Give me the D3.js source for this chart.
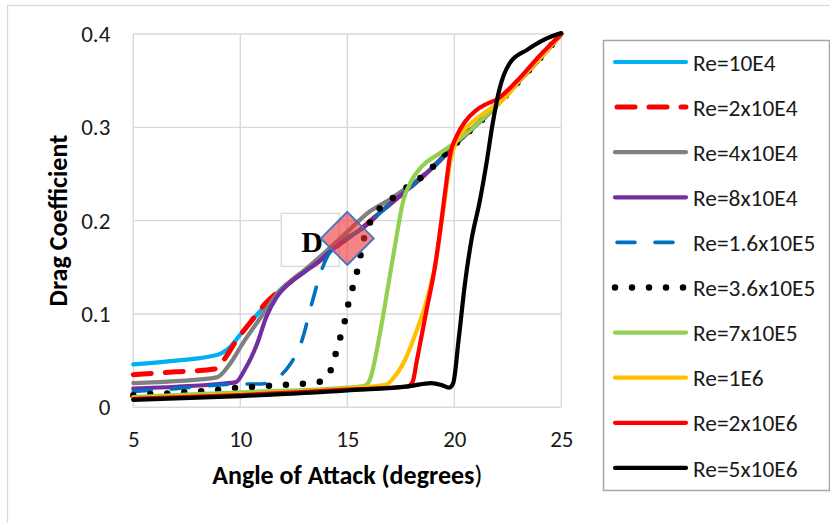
<!DOCTYPE html>
<html><head><meta charset="utf-8">
<script src="https://cdn.jsdelivr.net/npm/d3@7"></script>
<style>body{margin:0;background:#fff}text{font-family:Carlito,Lato,"Open Sans",sans-serif}</style>
</head><body>
<svg id="chart" width="830" height="523"></svg>
<script>
// ---- data ----
const xTicks = [5, 10, 15, 20, 25];
const yTicks = [0, 0.1, 0.2, 0.3, 0.4];
const xTitleMain = "Angle of Attack (degrees";
const xTitleEnd = ")";
const yTitle = "Drag Coefficient";
const seriesNames = ["Re=10E4","Re=2x10E4","Re=4x10E4","Re=8x10E4","Re=1.6x10E5","Re=3.6x10E5","Re=7x10E5","Re=1E6","Re=2x10E6","Re=5x10E6"];

const re10E4 = [[5,.046],[7,.050],[8.9,.056],[9.5,.064],[10,.078],[11,.105],[11.7,.122],[12.3,.134],[13,.146],[13.7,.157],[14.3,.169],[15,.181],[15.7,.192],[16.2,.202],[17,.218],[17.9,.235],[18.8,.253],[19.3,.264],[20,.281],[21,.302],[22,.324],[23,.349],[24,.374],[25,.4]];
const re2x10E4 = [[5,.035],[7,.038],[8.8,.041],[9.2,.050],[9.8,.071],[10.5,.092],[11.2,.112],[12,.128],[12.6,.139],[13.2,.149],[13.7,.157],[14.3,.169],[15,.181],[15.7,.192],[16.2,.202],[17,.218],[17.9,.235],[18.8,.253],[19.3,.264],[20,.281],[21,.302],[22,.324],[23,.349],[24,.374],[25,.4]];
const re4x10E4 = [[5,.026],[7,.028],[8.9,.032],[9.5,.046],[10.1,.068],[11.1,.101],[11.8,.124],[12.4,.136],[13,.147],[14,.167],[15,.188],[16,.209],[17,.223],[18,.239],[18.8,.253],[19.3,.264],[20,.281],[21,.302],[22,.324],[23,.349],[24,.374],[25,.4]];
const re8x10E4 = [[5,.020],[7,.022],[9,.025],[9.8,.027],[10.2,.040],[10.8,.069],[11.2,.096],[11.7,.118],[12.3,.133],[13,.145],[13.7,.157],[14.3,.169],[15,.181],[15.7,.192],[16.2,.202],[17,.218],[17.9,.235],[18.8,.253],[19.3,.264],[20,.281],[21,.302],[22,.324],[23,.349],[24,.374],[25,.4]];
const re1_6x10E5 = [[5,.017],[7,.020],[10,.025],[11,.025],[11.6,.030],[12.3,.045],[12.9,.073],[13.35,.112],[13.8,.147],[14.1,.163],[14.5,.174],[15,.181],[15.7,.192],[16.2,.202],[17,.218],[17.9,.235],[18.8,.253],[19.3,.264],[20,.281],[21,.302],[22,.324],[23,.349],[24,.374],[25,.4]];
const re3_6x10E5 = [[5,.013],[8,.017],[10,.021],[12,.024],[13.6,.027],[14.05,.031],[14.3,.045],[14.5,.061],[14.7,.077],[14.9,.094],[15.05,.111],[15.25,.128],[15.45,.145],[15.6,.161],[15.75,.178],[16,.195],[16.4,.21],[17,.222],[17.5,.231],[18.8,.253],[19.3,.265],[20,.281],[21,.302],[22,.324],[23,.349],[24,.374],[25,.4]];
const re7x10E5 = [[5,.011],[10,.016],[15,.021],[15.8,.023],[16.06,.030],[16.5,.076],[16.9,.129],[17.3,.183],[17.6,.220],[18,.243],[18.4,.256],[19.3,.272],[20,.283],[21,.302],[22,.324],[23,.349],[24,.374],[25,.4]];
const re1E6 = [[5,.010],[10,.014],[15,.020],[16.8,.024],[17.1,.030],[17.7,.051],[18.3,.086],[18.6,.106],[19.1,.152],[19.55,.222],[19.8,.262],[20.1,.286],[20.5,.298],[21.5,.317],[22.3,.330],[23,.349],[24,.374],[25,.4]];
const re2x10E6 = [[5,.009],[10,.013],[15,.019],[17.8,.022],[18.05,.027],[18.25,.050],[18.7,.104],[19.1,.151],[19.4,.200],[19.6,.236],[19.8,.270],[20.1,.290],[20.5,.306],[21,.318],[21.5,.325],[22,.330],[22.9,.349],[24,.377],[25,.4]];
const re5x10E6 = [[5,.008],[10,.012],[15,.018],[18,.023],[18.9,.026],[19.4,.024],[19.75,.021],[19.95,.026],[20.2,.072],[20.5,.133],[20.8,.179],[21.2,.222],[21.5,.261],[21.8,.305],[22.1,.340],[22.6,.369],[23.4,.383],[24.2,.394],[25,.401]];
const seriesData = [re10E4, re2x10E4, re4x10E4, re8x10E4, re1_6x10E5, re3_6x10E5, re7x10E5, re1E6, re2x10E6, re5x10E6];
const markerLabel = "D";
const markerPoint = [15, 0.181];

// ---- styles ----
const styles = [
  {color:"#00b0f0", width:4.2, dash:null, cap:"round"},
  {color:"#ff0000", width:5, dash:"18 14", cap:"round"},
  {color:"#808080", width:4.2, dash:null, cap:"round"},
  {color:"#7030a0", width:4.2, dash:null, cap:"round"},
  {color:"#0070c0", width:3.6, dash:"18 20", cap:"round"},
  {color:"#000000", width:6.5, dash:"0 17", cap:"round"},
  {color:"#92d050", width:4.2, dash:null, cap:"round"},
  {color:"#ffc000", width:4.2, dash:null, cap:"round"},
  {color:"#ff0000", width:4.2, dash:null, cap:"round"},
  {color:"#000000", width:4.2, dash:null, cap:"round"}
];

const svg = d3.select("#chart");
svg.append("rect").attr("width",830).attr("height",523).attr("fill","#fff");
svg.append("rect").attr("x",7.5).attr("y",5.5).attr("width",840).attr("height",540)
  .attr("fill","none").attr("stroke","#d9d9d9").attr("stroke-width",1.3);

const x = d3.scaleLinear().domain([5,25]).range([133.3,561.3]);
const y = d3.scaleLinear().domain([0,0.4]).range([407.3,34]);

// grid
const g = svg.append("g");
g.selectAll(".vg").data(xTicks).join("line")
  .attr("x1",d=>x(d)).attr("x2",d=>x(d)).attr("y1",y(0)).attr("y2",y(0.4))
  .attr("stroke","#d9d9d9").attr("stroke-width",1.4);
g.selectAll(".hg").data(yTicks).join("line")
  .attr("y1",d=>y(d)).attr("y2",d=>y(d)).attr("x1",x(5)).attr("x2",x(25))
  .attr("stroke","#d9d9d9").attr("stroke-width",1.4);

// axes labels via d3 axes
const xAxis = svg.append("g").attr("transform",`translate(0,${y(0)})`)
  .call(d3.axisBottom(x).tickValues(xTicks).tickSize(0).tickPadding(23).tickFormat(d3.format("d")));
const yAxis = svg.append("g").attr("transform",`translate(${x(5)},0)`)
  .call(d3.axisLeft(y).tickValues(yTicks).tickSize(0).tickPadding(23).tickFormat(d=>d===0?"0":d3.format(".1f")(d)));
[xAxis,yAxis].forEach(a=>{
  a.select(".domain").remove();
  a.selectAll("text").attr("font-size",23).attr("fill","#1a1a1a").style("font-family","Carlito,Lato,sans-serif");
});

const xt = svg.append("text").attr("x",(x(5)+x(25))/2).attr("y",484).attr("text-anchor","middle")
  .attr("font-size",26).attr("fill","#000");
xt.append("tspan").attr("font-weight","bold").text(xTitleMain);
xt.append("tspan").attr("font-weight","normal").text(xTitleEnd);
svg.append("text").attr("transform",`translate(67,${(y(0)+y(0.4))/2}) rotate(-90)`).attr("text-anchor","middle")
  .attr("font-size",26).attr("font-weight","bold").attr("fill","#000").text(yTitle);

// marker label box (under series)
const mx = x(markerPoint[0]), my = y(markerPoint[1]);
svg.append("rect").attr("x",mx-66).attr("y",my-25).attr("width",58).attr("height",53)
  .attr("fill","#fff").attr("stroke","#d9d9d9").attr("stroke-width",1.4);
svg.append("text").attr("x",mx-46).attr("y",my+14).attr("font-size",30).attr("font-weight","bold")
  .style("font-family","'Liberation Serif','DejaVu Serif',serif").attr("fill","#000").text(markerLabel);

// series
const line = d3.line().x(d=>x(d[0])).y(d=>y(d[1])).curve(d3.curveMonotoneX);
seriesData.forEach((s,i)=>{
  const st = styles[i];
  svg.append("path").attr("d",line(s)).attr("fill","none")
    .attr("stroke",st.color).attr("stroke-width",st.width)
    .attr("stroke-linecap",st.cap).attr("stroke-linejoin","round")
    .attr("stroke-dasharray",st.dash);
});

// diamond marker
const r = 26.5;
svg.append("polygon").attr("points",[[mx,my-r],[mx+r,my],[mx,my+r],[mx-r,my]].map(p=>p.join(",")).join(" "))
  .attr("fill","#ee3333").attr("fill-opacity",0.6).attr("stroke","#4472c4").attr("stroke-width",1.8);

// legend
const lg = svg.append("g");
lg.append("rect").attr("x",603.5).attr("y",40.5).attr("width",226).attr("height",450)
  .attr("fill","#fff").attr("stroke","#a6a6a6").attr("stroke-width",1.5);
seriesNames.forEach((n,i)=>{
  const st = styles[i];
  const yy = 62 + i*45.1;
  const x1 = st.dash ? (st.dash.startsWith("0")?615:617) : 615;
  const x2 = st.dash ? (st.dash.startsWith("0")?688:686) : 686;
  lg.append("line").attr("x1",x1).attr("x2",x2).attr("y1",yy).attr("y2",yy)
    .attr("stroke",st.color).attr("stroke-width",st.width).attr("stroke-linecap",st.cap)
    .attr("stroke-dasharray",st.dash);
  lg.append("text").attr("x",693).attr("y",yy).attr("dy","0.37em").attr("font-size",23.4)
    .attr("fill","#1a1a1a").text(n);
});
</script>
</body></html>
